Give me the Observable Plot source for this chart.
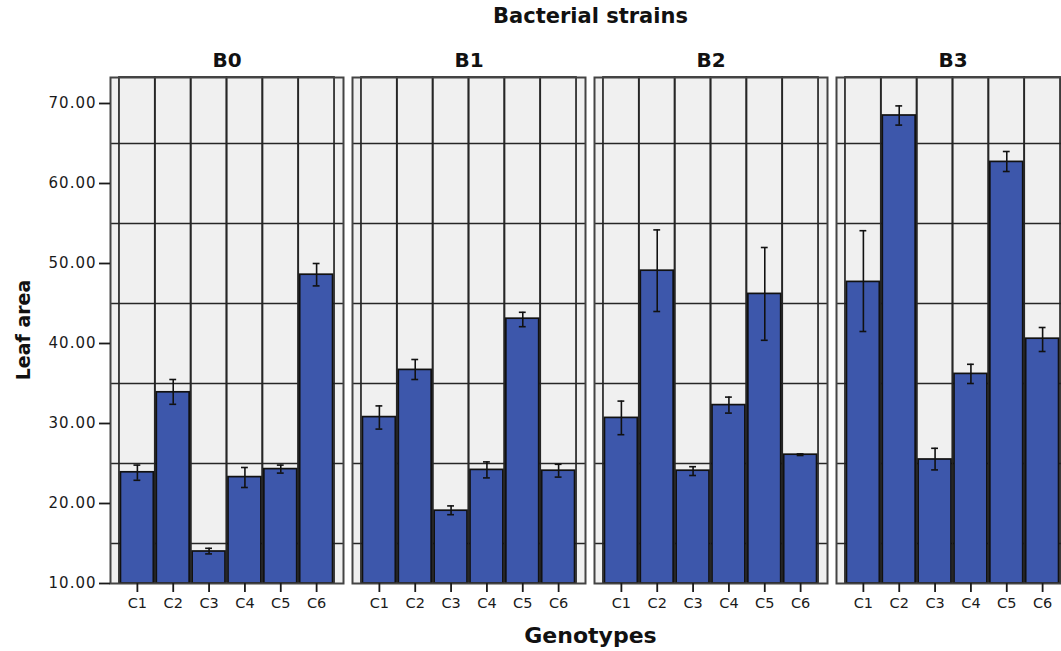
<!DOCTYPE html>
<html>
<head>
<meta charset="utf-8">
<script src="https://cdn.jsdelivr.net/npm/d3@7"></script>
<script src="https://cdn.jsdelivr.net/npm/@observablehq/plot@0.6"></script>
<style>
  html, body { margin: 0; padding: 0; background: #fff; overflow: hidden; width: 1061px; height: 651px; }
  #chart { width: 1061px; height: 651px; overflow: hidden; }
  #chart svg { display: block; max-width: none !important; width: 1075px; height: 651px; }
  g[aria-label="y-axis tick label"] text { font-size: 15px !important; letter-spacing: 1px; }
  g[aria-label="x-axis tick label"] text { font-size: 14.5px !important; }
</style>
</head>
<body>
<div id="chart"></div>
<script>
// ---- data ----
const strains = ["B0", "B1", "B2", "B3"];
const genotypes = ["C1", "C2", "C3", "C4", "C5", "C6"];

const meanB0 = [23.9, 33.9, 14.0, 23.3, 24.3, 48.6];
const lowB0  = [22.9, 32.4, 13.7, 22.0, 23.8, 47.2];
const highB0 = [24.8, 35.5, 14.4, 24.5, 24.8, 50.0];

const meanB1 = [30.8, 36.7, 19.1, 24.2, 43.1, 24.1];
const lowB1  = [29.3, 35.5, 18.6, 23.2, 42.1, 23.3];
const highB1 = [32.2, 38.0, 19.7, 25.2, 43.9, 24.9];

const meanB2 = [30.7, 49.1, 24.1, 32.3, 46.2, 26.1];
const lowB2  = [28.6, 44.0, 23.5, 31.3, 40.4, 26.0];
const highB2 = [32.8, 54.2, 24.6, 33.3, 52.0, 26.2];

const meanB3 = [47.7, 68.5, 25.5, 36.2, 62.7, 40.6];
const lowB3  = [41.5, 67.3, 24.2, 35.0, 61.5, 39.0];
const highB3 = [54.1, 69.7, 26.9, 37.4, 64.0, 42.0];

const yTicks = [10, 20, 30, 40, 50, 60, 70];
const gridValues = [15, 25, 35, 45, 55, 65];
const yDomain = [10, 73.25];

// ---- table built from the arrays ----
const means = [meanB0, meanB1, meanB2, meanB3];
const lows = [lowB0, lowB1, lowB2, lowB3];
const highs = [highB0, highB1, highB2, highB3];
const rows = [];
strains.forEach((s, i) => genotypes.forEach((g, j) => {
  rows.push({strain: s, genotype: g, mean: means[i][j], lo: lows[i][j], hi: highs[i][j]});
}));

const W = 1075, H = 651, mL = 110, mR = 6, mT = 77, mB = 68;
const font = "'DejaVu Sans', sans-serif";
const barBlue = "#3d57ab";

const svg = Plot.plot({
  width: W,
  height: H,
  marginLeft: mL,
  marginRight: mR,
  marginTop: mT,
  marginBottom: mB,
  style: {fontFamily: font, fontSize: "14px", color: "#1a1a1a", background: "#fff", maxWidth: "none"},
  fx: {domain: strains, paddingInner: 9 / 242, paddingOuter: 0, round: false, label: null},
  x: {domain: genotypes, paddingInner: 0, paddingOuter: 0.25, round: false, label: null},
  y: {domain: yDomain, label: null},
  marks: [
    Plot.frame({fill: "#f0f0f0"}),
    // vertical grid: band outlines
    Plot.barY(genotypes, {x: d => d, y1: yDomain[0], y2: yDomain[1], fill: "none", stroke: "#262626", strokeWidth: 1.7}),
    Plot.ruleY(gridValues, {stroke: "#262626", strokeWidth: 1.5}),
    Plot.barY(rows, {fx: "strain", x: "genotype", y1: yDomain[0], y2: "mean", fill: barBlue, stroke: "#111", strokeWidth: 1.7, insetLeft: 1.5, insetRight: 1.5}),
    Plot.ruleX(rows, {fx: "strain", x: "genotype", y1: "lo", y2: "hi", stroke: "#111", strokeWidth: 1.6}),
    Plot.tickY(rows, {fx: "strain", x: "genotype", y: "lo", stroke: "#111", strokeWidth: 1.6, insetLeft: 14.5, insetRight: 14.5}),
    Plot.tickY(rows, {fx: "strain", x: "genotype", y: "hi", stroke: "#111", strokeWidth: 1.6, insetLeft: 14.5, insetRight: 14.5}),
    Plot.frame({stroke: "#444", strokeWidth: 2}),
    Plot.axisY({ticks: yTicks, tickFormat: d3.format(".2f"), tickSize: 11, tickPadding: 3, fontSize: 15, stroke: "#1a1a1a", strokeWidth: 1.8, label: null}),
    Plot.axisX({tickSize: 9, tickPadding: 5, fontSize: 14.5, stroke: "#1a1a1a", strokeWidth: 1.8, label: null}),
    Plot.axisFx({anchor: "top", tickSize: 0, tickPadding: 11, fontSize: 20, fontWeight: "bold", fill: "#111", label: null})
  ]
});

const cx = (mL + W - mR) / 2;
const s = d3.select(svg);
s.append("text")
  .attr("x", cx + 1).attr("y", 23)
  .attr("text-anchor", "middle")
  .attr("font-family", font).attr("font-weight", "bold").attr("font-size", 21)
  .attr("fill", "#111")
  .text("Bacterial strains");
s.append("text")
  .attr("x", cx + 1).attr("y", 643)
  .attr("text-anchor", "middle")
  .attr("font-family", font).attr("font-weight", "bold").attr("font-size", 22)
  .attr("fill", "#111")
  .text("Genotypes");
s.append("text")
  .attr("transform", "translate(30,330) rotate(-90)")
  .attr("text-anchor", "middle")
  .attr("font-family", font).attr("font-weight", "bold").attr("font-size", 19)
  .attr("fill", "#111")
  .text("Leaf area");

document.getElementById("chart").appendChild(svg);
</script>
</body>
</html>
